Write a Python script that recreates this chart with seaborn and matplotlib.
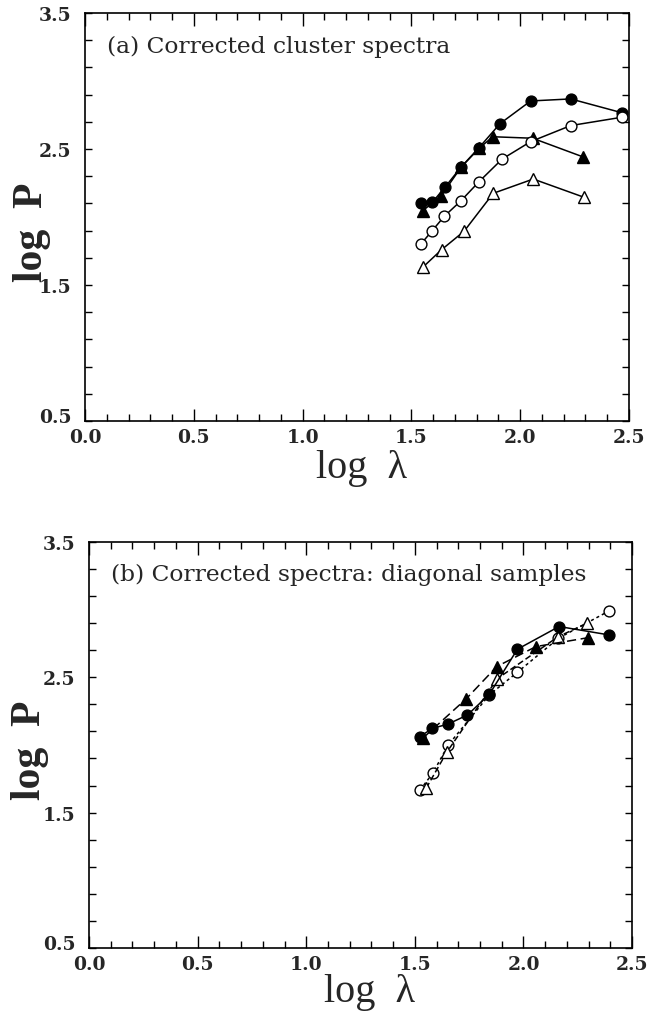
import numpy as np
import pandas as pd
import matplotlib
matplotlib.use("Agg")
import matplotlib.pyplot as plt
import matplotlib.transforms as mtransforms
from matplotlib.ticker import FixedLocator, MultipleLocator
import seaborn as sns

sns.set_theme(style="white")
plt.rcParams['font.family'] = ['DejaVu Serif']

# ---- Panel (a): corrected cluster spectra ----
a_fc_x = [1.543, 1.596, 1.654, 1.727, 1.811, 1.907, 2.048, 2.232, 2.466]
a_fc_y = [2.100, 2.108, 2.218, 2.365, 2.510, 2.686, 2.853, 2.868, 2.767]
a_ft_x = [1.552, 1.635, 1.728, 1.811, 1.874, 2.057, 2.290]
a_ft_y = [2.046, 2.152, 2.365, 2.505, 2.590, 2.579, 2.441]
a_oc_x = [1.543, 1.596, 1.651, 1.727, 1.811, 1.917, 2.048, 2.232, 2.466]
a_oc_y = [1.800, 1.900, 2.005, 2.118, 2.260, 2.426, 2.554, 2.672, 2.733]
a_ot_x = [1.552, 1.639, 1.742, 1.876, 2.060, 2.293]
a_ot_y = [1.630, 1.760, 1.895, 2.174, 2.279, 2.145]

# ---- Panel (b): diagonal samples ----
b_fc_x = [1.524, 1.581, 1.651, 1.742, 1.843, 1.972, 2.164, 2.394]
b_fc_y = [2.062, 2.123, 2.153, 2.221, 2.374, 2.707, 2.875, 2.813]
b_ft_x = [1.536, 1.736, 1.877, 2.058, 2.299]
b_ft_y = [2.049, 2.340, 2.579, 2.727, 2.793]
b_oc_x = [1.524, 1.582, 1.654, 1.843, 1.972, 2.161, 2.394]
b_oc_y = [1.667, 1.790, 2.000, 2.370, 2.537, 2.788, 2.990]
b_ot_x = [1.552, 1.647, 1.880, 2.160, 2.294]
b_ot_y = [1.680, 1.946, 2.490, 2.800, 2.900]

x_ticks = [0.0, 0.5, 1.0, 1.5, 2.0, 2.5]
x_labels = ["0.0", "0.5", "1.0", "1.5", "2.0", "2.5"]
y_ticks = [0.5, 1.5, 2.5, 3.5]
y_labels = ["0.5", "1.5", "2.5", "3.5"]

fig = plt.figure(figsize=(6.47, 10.12), dpi=100)
ax_a = fig.add_axes([0.1314, 0.583, 0.8408, 0.4032])
ax_b = fig.add_axes([0.1376, 0.0623, 0.8393, 0.4012])

def series(ax, x, y, marker, filled, ls):
    df = pd.DataFrame({"x": x, "y": y})
    sns.lineplot(data=df, x="x", y="y", ax=ax, sort=False, estimator=None,
                 color="black", lw=1.1, linestyle=ls, marker=marker,
                 markersize=7.8 if marker == "o" else 8.3,
                 markerfacecolor="black" if filled else "white",
                 markeredgecolor="black", markeredgewidth=1.0)

series(ax_a, a_fc_x, a_fc_y, "o", True, "-")
series(ax_a, a_ft_x, a_ft_y, "^", True, "-")
series(ax_a, a_oc_x, a_oc_y, "o", False, "-")
series(ax_a, a_ot_x, a_ot_y, "^", False, "-")

series(ax_b, b_oc_x, b_oc_y, "o", False, (0, (2, 2)))
series(ax_b, b_ot_x, b_ot_y, "^", False, (0, (4, 2)))
series(ax_b, b_ft_x, b_ft_y, "^", True, (0, (6, 3)))
series(ax_b, b_fc_x, b_fc_y, "o", True, "-")

label_pos = {
    "a": {"x": (0.509, -0.113), "y": (-0.097, 0.466)},
    "b": {"x": (0.517, -0.108), "y": (-0.109, 0.49)},
}

for key, ax, title in [("a", ax_a, "(a) Corrected cluster spectra"),
                       ("b", ax_b, "(b) Corrected spectra: diagonal samples")]:
    ax.set_xlim(0, 2.5)
    ax.set_ylim(0.5, 3.5)
    ax.set_xticks(x_ticks)
    ax.set_xticklabels(x_labels)
    ax.set_yticks(y_ticks)
    ax.set_yticklabels(y_labels)
    ax.xaxis.set_minor_locator(MultipleLocator(0.1))
    ax.yaxis.set_minor_locator(FixedLocator(np.arange(0.5, 3.51, 0.2)))
    ax.tick_params(which="both", direction="in", top=True, right=True,
                   bottom=True, left=True, color="black", width=1.0)
    ax.tick_params(which="major", length=9, labelsize=13.5)
    ax.tick_params(axis="x", which="major", pad=5)
    ax.tick_params(axis="y", which="major", length=5, pad=10)
    ax.tick_params(which="minor", length=5)
    for lab in ax.get_xticklabels() + ax.get_yticklabels():
        lab.set_fontweight("bold")
        lab.set_family(["DejaVu Serif"])
        lab.set_fontsize(13.5)
    # nudge the bottom y label up so it clears the "0.0" x label
    ylab0 = ax.get_yticklabels()[0]
    ylab0.set_transform(ylab0.get_transform() +
                        mtransforms.ScaledTranslation(0, 4 / 72, fig.dpi_scale_trans))
    for sp in ax.spines.values():
        sp.set_visible(True)
        sp.set_color("black")
        sp.set_linewidth(1.2)
    ax.set_xlabel("log  λ", fontsize=29, family=["Liberation Serif"], va="center")
    ax.set_ylabel("log  P", fontsize=30, fontweight="bold",
                  family=["Liberation Serif"], va="center")
    ax.xaxis.set_label_coords(*label_pos[key]["x"])
    ax.yaxis.set_label_coords(*label_pos[key]["y"])
    ax.text(0.04, 0.92, title, transform=ax.transAxes, fontsize=16.8,
            family=["DejaVu Serif"], va="center", ha="left")
    ax.grid(False)

fig.savefig("out.png", dpi=100, facecolor="white")
